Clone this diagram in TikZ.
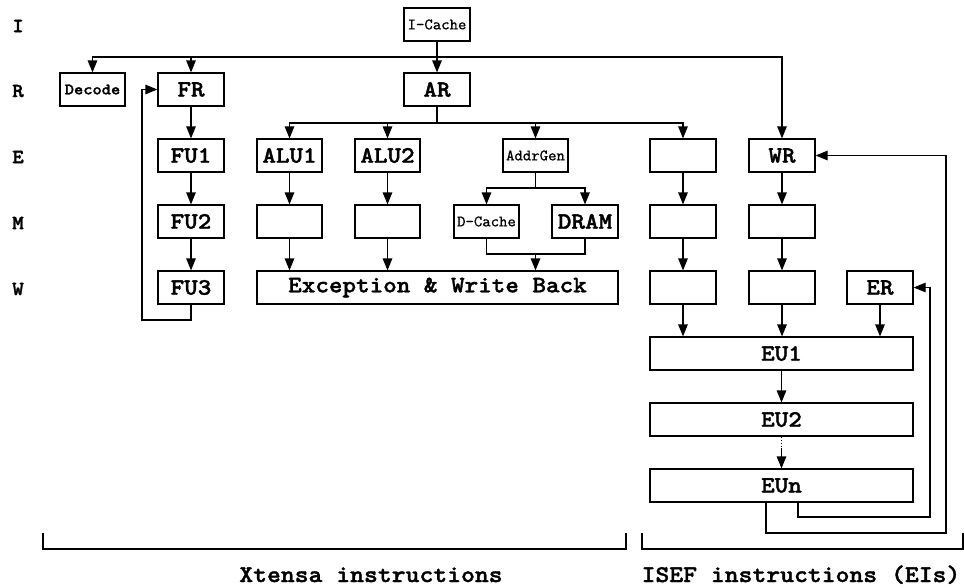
\documentclass[tikz,border=0pt]{standalone}
\usepackage{fontspec}
\newfontfamily\courB{lmmonolt10-bold.otf}[FakeBold=1.5, FakeStretch=1.1]
\newfontfamily\courR{lmmono10-regular.otf}[FakeBold=0.8]
\usetikzlibrary{arrows.meta,calc}
\tikzset{
  box/.style={draw, line width=1.2pt, inner sep=0pt, minimum width=66pt, minimum height=33pt, font=\fontsize{23.5}{23.5}\selectfont\courB},
  sbox/.style={box, font=\fontsize{16}{16}\selectfont\courR},
  wire/.style={line width=1.2pt},
  arr/.style={wire, -{Triangle[length=12pt,width=9.5pt]}},
  stage/.style={font=\fontsize{20}{20}\selectfont\courB, inner sep=0pt},
  lbl/.style={font=\fontsize{24}{24}\selectfont\courB, inner sep=0pt}
}
\begin{document}
\begin{tikzpicture}[x=1pt,y=-1pt]
\useasboundingbox (0,0) rectangle (964,587);
% stage labels
\node[stage] (sI) at (18,26) {I};
\node[stage] (sR) at (18,91) {R};
\node[stage] (sE) at (18,157) {E};
\node[stage] (sM) at (18,223) {M};
\node[stage] (sW) at (18,289) {W};
% row I/R
\node[sbox] (icache) at (437,24.5) {I-Cache};
\node[sbox, minimum width=65pt, font=\fontsize{16}{16}\selectfont\courB] (decode) at (92.5,89.5) {Decode};
\node[box] (fr) at (191,89.5) {FR};
\node[box] (ar) at (437,89.5) {AR};
% row E
\node[box] (fu1) at (191,155.5) {FU1};
\node[box, minimum width=65pt] (alu1) at (289.5,155.5) {ALU1};
\node[box, minimum width=65pt] (alu2) at (387.5,155.5) {ALU2};
\node[sbox, minimum width=65pt] (addr) at (535.5,155.5) {AddrGen};
\node[box] (e5) at (683,155.5) {};
\node[box] (wr) at (782,155.5) {WR};
% row M
\node[box] (fu2) at (191,221.5) {FU2};
\node[box, minimum width=65pt] (m2) at (289.5,221.5) {};
\node[box, minimum width=65pt] (m3) at (387.5,221.5) {};
\node[sbox, minimum width=65pt] (dcache) at (486.5,221.5) {D-Cache};
\node[box] (dram) at (585,221.5) {DRAM};
\node[box] (m6) at (683,221.5) {};
\node[box] (m7) at (782,221.5) {};
% row W
\node[box] (fu3) at (191,287.5) {FU3};
\node[box, minimum width=361pt] (ewb) at (437.5,287.5) {Exception \& Write Back};
\node[box] (w6) at (683,287.5) {};
\node[box] (w7) at (782,287.5) {};
\node[box] (er) at (880,287.5) {ER};
% EU
\node[box, minimum width=263pt] (eu1) at (781.5,353.5) {EU1};
\node[box, minimum width=263pt] (eu2) at (781.5,419.5) {EU2};
\node[box, minimum width=263pt] (eun) at (781.5,485.5) {EUn};
% coordinates
\coordinate (top) at (437,57);
\coordinate (arj) at (437,123);
\coordinate (agj) at (535.5,188);
\coordinate (dmj) at (535.5,254);
\coordinate (fb) at (142,320);
\coordinate (dd) at (781.5,448);
\coordinate (o1) at (766,533);
\coordinate (o2) at (946,533);
\coordinate (i1) at (798,517);
\coordinate (i2) at (930,517);
% I-cache fan-out
\draw[arr] (icache) -- (ar);
\draw[arr] (top) -| (decode.north);
\draw[arr] (top) -| (fr.north);
\draw[arr] (top) -| (wr.north);
% AR fan-out
\draw[wire] (ar.south) -- (arj);
\draw[arr] (arj) -| (alu1.north);
\draw[arr] (arj) -| (alu2.north);
\draw[arr] (arj) -| (addr.north);
\draw[arr] (arj) -| (e5.north);
% FU chain
\draw[arr] (fr) -- (fu1);
\draw[arr] (fu1) -- (fu2);
\draw[arr] (fu2) -- (fu3);
\draw[arr] (fu3.south) |- (fb) |- (fr.west);
% ALU paths
\draw[arr] (alu1) -- (m2);
\draw[arr] (m2.south) -- (m2.south |- ewb.north);
\draw[arr] (alu2) -- (m3);
\draw[arr] (m3.south) -- (m3.south |- ewb.north);
% AddrGen
\draw[wire] (addr.south) -- (agj);
\draw[arr] (agj) -| (dcache.north);
\draw[arr] (agj) -| (dram.north);
\draw[wire] (dcache.south) |- (dmj) -| (dram.south);
\draw[arr] (dmj) -- (dmj |- ewb.north);
% ISEF columns
\draw[arr] (e5) -- (m6);
\draw[arr] (m6) -- (w6);
\draw[arr] (w6.south) -- (w6.south |- eu1.north);
\draw[arr] (wr) -- (m7);
\draw[arr] (m7) -- (w7);
\draw[arr] (w7.south) -- (w7.south |- eu1.north);
\draw[arr] (er.south) -- (er.south |- eu1.north);
\draw[arr] (eu1) -- (eu2);
\draw[wire, dotted] (eu2.south) -- (dd);
\draw[arr] (dd) -- (eun.north);
% feedback
\draw[arr] (o1 |- eun.south) -- (o1) -- (o2) |- (wr.east);
\draw[arr] (i1 |- eun.south) -- (i1) -- (i2) |- (er.east);
% brackets
\draw[wire] (43,533) -- (43,549) -- (626,549) -- (626,533);
\draw[wire] (642,533) -- (642,549) -- (963,549) -- (963,533);
\node[lbl, anchor=base] (xt) at (371,582) {Xtensa instructions};
\node[lbl, anchor=base] (is) at (801,582) {ISEF instructions (EIs)};
\end{tikzpicture}
\end{document}
